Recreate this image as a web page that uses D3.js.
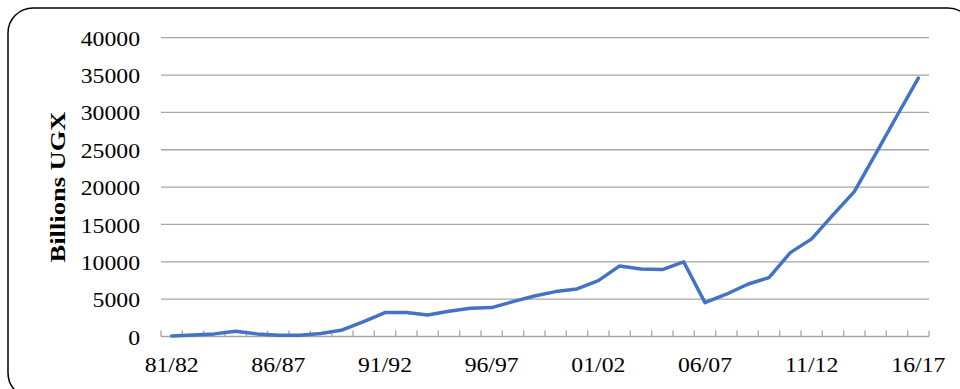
<!DOCTYPE html>
<html>
<head>
<meta charset="utf-8">
<script src="https://cdn.jsdelivr.net/npm/d3@7"></script>
<style>
  html, body { margin: 0; padding: 0; background: #fff; }
  svg { display: block; }
  text { font-family: "Liberation Serif", "Times New Roman", serif; fill: #000; }
</style>
</head>
<body>
<script>
// Fiscal years on the category axis
const years = [
  "81/82","82/83","83/84","84/85","85/86","86/87","87/88","88/89","89/90","90/91",
  "91/92","92/93","93/94","94/95","95/96","96/97","97/98","98/99","99/00","00/01",
  "01/02","02/03","03/04","04/05","05/06","06/07","07/08","08/09","09/10","10/11",
  "11/12","12/13","13/14","14/15","15/16","16/17"
];
// Value per fiscal year, billions of UGX
const values = [
  80, 200, 350, 700, 350, 170, 170, 390, 880, 2000,
  3200, 3200, 2890, 3390, 3790, 3870, 4670, 5430, 6010, 6370,
  7480, 9450, 9050, 8960, 10000, 4540, 5660, 7000, 7890, 11230,
  13070, 16280, 19400, 24450, 29550, 34600
];
// Labelled years and value ticks
const xTickLabels = ["81/82","86/87","91/92","96/97","01/02","06/07","11/12","16/17"];
const yTicks = [0, 5000, 10000, 15000, 20000, 25000, 30000, 35000, 40000];
const yTitle = "Billions UGX";

const W = 960, H = 389;
const plot = { left: 161, right: 929, top: 37.7, bottom: 336.5 };
const stretch = 1.13; // horizontal widening of the serif labels

const svg = d3.select("body").append("svg").attr("width", W).attr("height", H);

// Rounded outer frame
svg.append("rect")
  .attr("x", 8).attr("y", 8)
  .attr("width", 965).attr("height", 390)
  .attr("rx", 25).attr("ry", 25)
  .attr("fill", "none").attr("stroke", "#000").attr("stroke-width", 1.5);

const x = d3.scaleBand().domain(years).range([plot.left, plot.right]).padding(0);
const y = d3.scaleLinear().domain([0, 40000]).range([plot.bottom, plot.top]);

// Horizontal gridlines
svg.append("g")
  .selectAll("line")
  .data(yTicks.filter(v => v > 0))
  .join("line")
  .attr("x1", plot.left).attr("x2", plot.right)
  .attr("y1", d => y(d)).attr("y2", d => y(d))
  .attr("stroke", "#a6a6a6").attr("stroke-width", 1.3);

// Value axis labels
const yAxis = svg.append("g")
  .attr("transform", `translate(${plot.left},0)`)
  .call(d3.axisLeft(y).tickValues(yTicks).tickFormat(d3.format("d")).tickSize(0).tickPadding(21));
yAxis.select(".domain").remove();
yAxis.selectAll("text")
  .attr("font-family", "Liberation Serif").attr("font-size", 21).attr("dy", "0.36em");

// Category axis: baseline with inward ticks at band edges
const xAxisG = svg.append("g");
xAxisG.append("line")
  .attr("x1", plot.left).attr("x2", plot.right)
  .attr("y1", plot.bottom).attr("y2", plot.bottom)
  .attr("stroke", "#a6a6a6").attr("stroke-width", 1.5);
const edges = years.map(d => x(d)).concat([plot.right]);
xAxisG.selectAll("line.tick")
  .data(edges)
  .join("line").attr("class", "tick")
  .attr("x1", d => d).attr("x2", d => d)
  .attr("y1", plot.bottom).attr("y2", plot.bottom - 6)
  .attr("stroke", "#a6a6a6").attr("stroke-width", 1.3);

const xAxis = svg.append("g")
  .attr("transform", `translate(0,${plot.bottom})`)
  .call(d3.axisBottom(x).tickValues(xTickLabels).tickSize(0).tickPadding(21));
xAxis.select(".domain").remove();
xAxis.selectAll("text")
  .attr("font-family", "Liberation Serif").attr("font-size", 21).attr("dy", "0.71em");

// Widen labels to the serif proportions of the chart
svg.selectAll(".tick text").each(function () {
  const len = this.getComputedTextLength();
  d3.select(this).attr("textLength", len * stretch).attr("lengthAdjust", "spacingAndGlyphs");
});

// Axis title
const title = svg.append("text")
  .attr("transform", `translate(65,187) rotate(-90)`)
  .attr("text-anchor", "middle")
  .attr("font-family", "Liberation Serif")
  .attr("font-weight", "bold")
  .attr("font-size", 22)
  .text(yTitle);
title.attr("textLength", 151).attr("lengthAdjust", "spacingAndGlyphs");

// Series line
const line = d3.line()
  .x((d, i) => x(years[i]) + x.bandwidth() / 2)
  .y(d => y(d));
svg.append("path")
  .datum(values)
  .attr("d", line)
  .attr("fill", "none")
  .attr("stroke", "#4472c4")
  .attr("stroke-width", 3.5)
  .attr("stroke-linejoin", "round")
  .attr("stroke-linecap", "round");
</script>
</body>
</html>
